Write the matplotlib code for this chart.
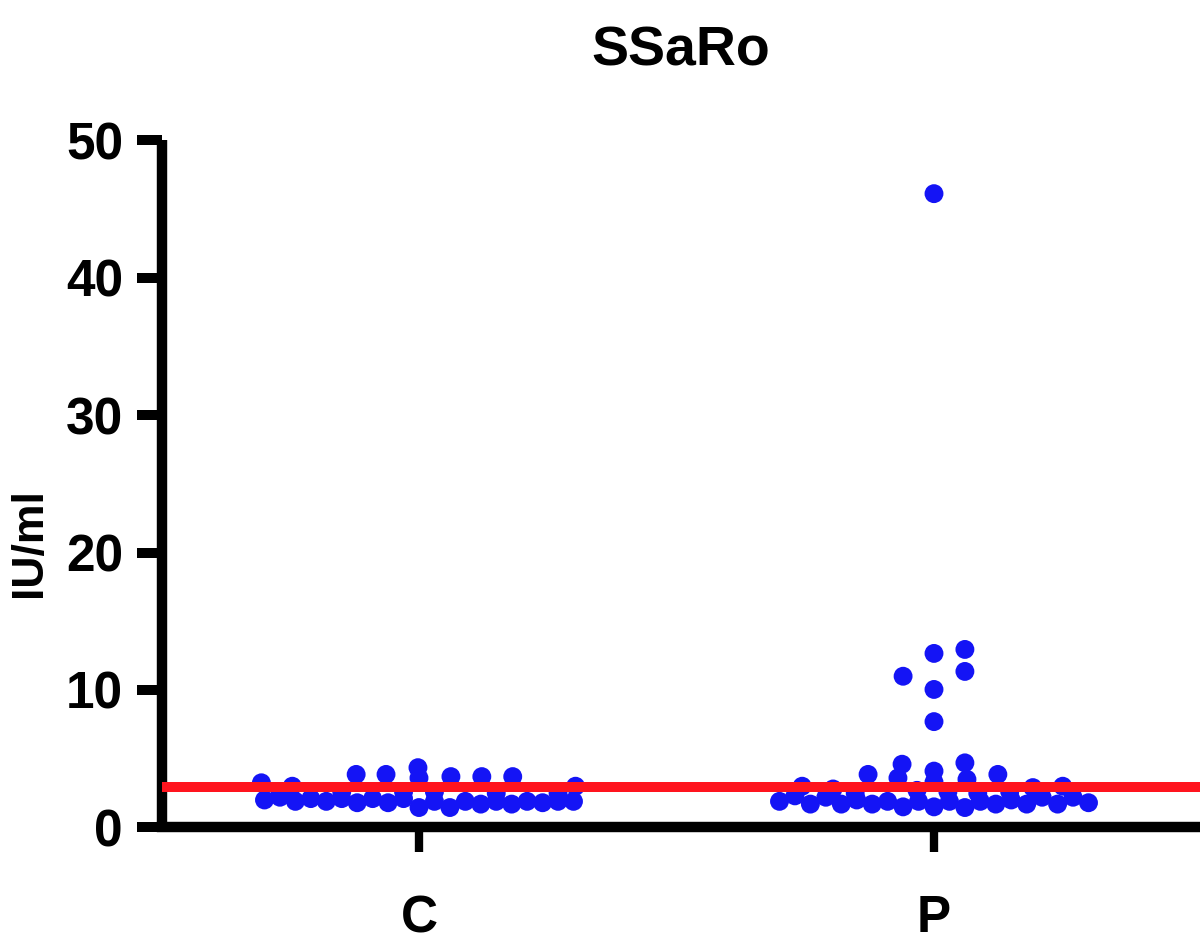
# Dot plot of SSaRo antibody levels, control (C) vs patient (P) groups
import matplotlib
matplotlib.use("Agg")
import matplotlib.pyplot as plt

# ---------------------------------------------------------------- data --- #
categories = ["C", "P"]
cutoff = 2.95          # IU/ml, positivity threshold (red line)

# control group: values, with the horizontal scatter
# offset (in category units) each dot has in the picture
c_values = [2.0, 2.2, 1.9, 2.1, 1.9, 2.1, 1.8, 2.1, 1.8, 2.1, 1.45,
            1.9, 1.45, 1.9, 1.7, 1.9, 1.7, 1.9, 1.8, 1.9, 1.9,
            3.25, 3.0, 3.86, 3.86, 4.35, 3.6, 3.7, 3.7, 3.7, 3.0,
            2.5, 2.6, 2.6, 2.6, 2.5, 2.5]
c_offsets = [-0.30, -0.27, -0.24, -0.21, -0.18, -0.15, -0.12, -0.09, -0.06, -0.03, 0.0,
             0.03, 0.06, 0.09, 0.12, 0.15, 0.18, 0.21, 0.24, 0.27, 0.30,
             -0.306, -0.246, -0.122, -0.064, -0.002, 0.0, 0.062, 0.122, 0.182, 0.304,
             -0.27, -0.15, -0.03, 0.03, 0.15, 0.27]

# patient group
p_values = [1.9, 2.3, 1.7, 2.2, 1.7, 2.0, 1.7, 1.9, 1.5, 1.9, 1.5,
            1.9, 1.45, 1.9, 1.7, 2.0, 1.7, 2.2, 1.7, 2.2, 1.8,
            3.0, 2.8, 3.86, 4.6, 3.6, 4.1, 3.3, 4.7, 3.5, 3.86, 2.9, 3.0,
            2.5, 2.7, 2.6, 2.5, 2.6, 2.5,
            11.0, 12.66, 12.95, 11.35, 10.04, 7.7, 46.1]
p_offsets = [-0.30, -0.27, -0.24, -0.21, -0.18, -0.15, -0.12, -0.09, -0.06, -0.03, 0.0,
             0.03, 0.06, 0.09, 0.12, 0.15, 0.18, 0.21, 0.24, 0.27, 0.30,
             -0.256, -0.196, -0.128, -0.062, -0.07, 0.0, 0.0, 0.06, 0.064, 0.124, 0.192, 0.25,
             -0.153, -0.033, 0.027, 0.085, 0.147, 0.205,
             -0.06, 0.0, 0.06, 0.06, 0.0, 0.0, 0.0]

y_ticks = [0, 10, 20, 30, 40, 50]

# ---------------------------------------------------------------- plot --- #
plt.rcParams["font.family"] = ["Liberation Sans", "DejaVu Sans"]
plt.rcParams["font.weight"] = "bold"

fig = plt.figure(figsize=(12, 9.52), dpi=100)
ax = fig.add_axes([0.135, 0.1308, 0.865, 0.7221])

dot_color = "#1414f5"
for i, (vals, offs) in enumerate([(c_values, c_offsets), (p_values, p_offsets)]):
    ax.scatter([i + o for o in offs], vals, s=185, color=dot_color,
               edgecolors="none", zorder=2, clip_on=False)

# cutoff line sits on top of the dots
ax.axhline(cutoff, color="#ff141e", linewidth=7.2, zorder=3)

ax.set_xlim(-0.499, 1.5165)
ax.set_ylim(0, 50)
ax.set_xticks(range(len(categories)))
ax.set_xticklabels(categories)
ax.set_yticks(y_ticks)

for side in ["top", "right"]:
    ax.spines[side].set_visible(False)
ax.spines["left"].set_linewidth(7.5)
ax.spines["bottom"].set_linewidth(7.5)
ax.spines["left"].set_capstyle("butt")

ax.tick_params(axis="y", length=18, width=7.2, pad=10, labelsize=37)
ax.tick_params(axis="x", length=18, width=6, pad=30, labelsize=37)
for lbl in ax.get_xticklabels() + ax.get_yticklabels():
    lbl.set_fontweight("bold")

ax.set_ylabel("IU/ml", fontsize=32, fontweight="bold")
ax.yaxis.set_label_coords(-0.108, 0.415)
ax.set_title("SSaRo", fontsize=40, fontweight="bold", pad=54)

fig.savefig("out.png", dpi=100)
